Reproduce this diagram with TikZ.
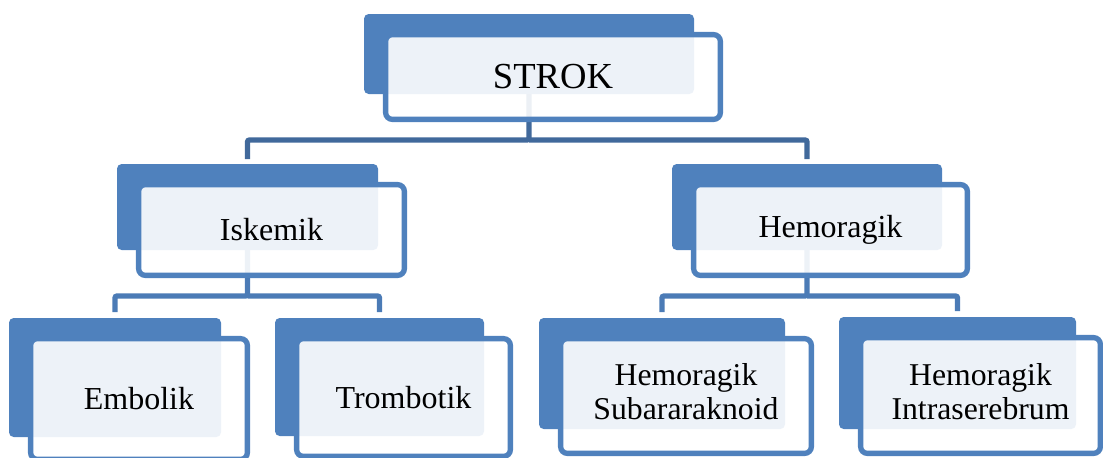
\documentclass[tikz,border=0pt]{standalone}
\usepackage{graphicx}
\usepackage{fontspec}
\setmainfont{Liberation Serif}
\usetikzlibrary{calc}
\pgfdeclarelayer{bg}
\pgfsetlayers{bg,main}
\definecolor{acc}{HTML}{4F81BD}
\definecolor{connA}{HTML}{41699B}
\definecolor{connB}{HTML}{4B7BB6}
\tikzset{
  backbox/.style={fill=acc, draw=none, rounded corners=3.5pt, inner sep=0pt, outer sep=0pt},
  frontbox/.style={draw=acc, line width=4pt, fill=white, fill opacity=0.9, text opacity=1, draw opacity=1,
    rounded corners=5pt, inner sep=0pt, outer sep=0pt, align=center, text=black},
  conn/.style={line width=4pt, rounded corners=1.5pt},
}
% name, front x1, y1, x2, y2, back x2, y2, text
\newcommand\orgpair[8]{%
  \node[backbox, minimum width={(#6-#2+19)*0.75pt}, minimum height={(#7-#3+18)*0.75pt}]
    (#1b) at ({(#2-19+#6)/2},{(#3-18+#7)/2}) {};
  \node[frontbox, minimum width={(#4-#2-5.3)*0.75pt}, minimum height={(#5-#3-5.3)*0.75pt}]
    (#1) at ({(#2+#4)/2},{(#3+#5)/2}) {#8};
}
\newcommand\twoline[2]{\fontsize{23.8}{25.3}\selectfont\raisebox{-5pt}{\begin{tabular}{@{}c@{}}#1\\#2\end{tabular}}}
\begin{document}
\begin{tikzpicture}[x=0.75pt,y=-0.75pt]
\useasboundingbox (0,0) rectangle (1103,457);
\orgpair{strok}{383}{32}{723}{122}{694}{94}{\fontsize{27.5}{33}\selectfont STROK}
\orgpair{isk}{136}{182}{407}{278}{378}{250}{\fontsize{24}{29}\selectfont Iskemik}
\orgpair{hem}{691}{182}{970}{278}{942}{250}{\fontsize{24}{29}\selectfont Hemoragik}
\orgpair{emb}{28}{336}{250}{462}{221}{437}{\fontsize{24}{29}\selectfont Embolik}
\orgpair{trom}{294}{336}{513}{459}{484}{436}{\fontsize{24}{29}\selectfont Trombotik}
\orgpair{sub}{558}{336}{814}{456}{785}{429}{\twoline{Hemoragik}{Subararaknoid}}
\orgpair{intra}{858}{335}{1103}{456}{1076}{429}{\twoline{Hemoragik}{Intraserebrum}}
\coordinate (lvlA) at (0,140);
\coordinate (lvlB) at (0,296);
\begin{pgfonlayer}{bg}
  \draw[conn,connA] (strokb.south) -- (strokb.south |- lvlA) -| ([yshift=3.75pt]iskb.north);
  \draw[conn,connA] (strokb.south |- lvlA) -| ([yshift=3.75pt]hemb.north);
  \draw[conn,connB] (iskb.south) -- (iskb.south |- lvlB) -| ([yshift=4.5pt]embb.north);
  \draw[conn,connB] (iskb.south |- lvlB) -| ([yshift=4.5pt]tromb.north);
  \draw[conn,connB] (hemb.south) -- (hemb.south |- lvlB) -| ([yshift=4.5pt]subb.north);
  \draw[conn,connB] (hemb.south |- lvlB) -| ([yshift=4.5pt]intrab.north);
\end{pgfonlayer}
\end{tikzpicture}
\end{document}
